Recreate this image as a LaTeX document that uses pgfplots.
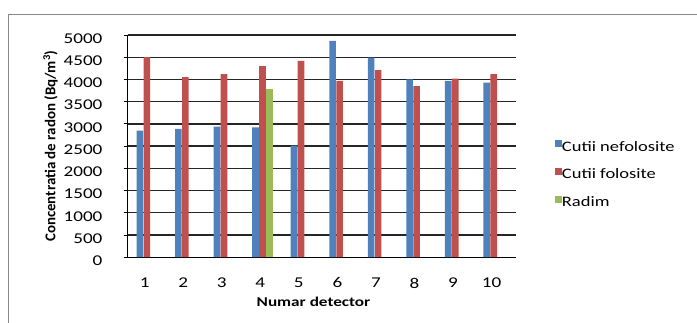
\documentclass[border=0pt]{standalone}
\usepackage{pgfplots}
\pgfplotsset{compat=1.18}
\usepackage{fontspec}
\setmainfont{Carlito}[FakeStretch=1.28]
\newfontfamily\titlefont{Carlito}

\definecolor{framegray}{HTML}{898989}
\definecolor{barblue}{HTML}{4F81BD}
\definecolor{barred}{HTML}{C0504D}
\definecolor{bargreen}{HTML}{9BBB59}

\pgfplotsset{
  colbar/.style 2 args={
    ybar, bar width=6.6bp, bar shift=#2, draw=none, fill=#1,
    legend image code/.code={\fill[#1] (0bp,0.5bp) rectangle (7bp,7.5bp);}
  }
}

\begin{document}
\begin{tikzpicture}
\useasboundingbox (0bp,0bp) rectangle (697bp,323bp);
% outer chart frame
\draw[framegray, line width=1bp] (8.5bp,0bp) -- (8.5bp,308.5bp) -- (697bp,308.5bp);
\begin{axis}[
  at={(127.6bp,65.8bp)}, anchor=south west, scale only axis,
  width=388.5bp, height=222.2bp,
  xmin=0.5, xmax=10.58, ymin=0, ymax=5000,
  xtick={1,...,10}, ytick={0,500,...,5000},
  axis x line*=bottom, axis y line*=left,
  axis line style={-, black, line width=1.2bp},
  ymajorgrids, grid style={black!85, line width=1.3bp},
  xtick style={draw=none},
  ytick style={black, line width=0.9bp},
  tick align=outside, major tick length=4bp,
  /pgf/number format/assume math mode=true,
  /pgf/number format/1000 sep={},
  xticklabel style={font=\fontsize{15}{15}\selectfont, anchor=center,
    yshift=-21.8bp, xshift=-2.2bp},
  yticklabel style={font=\fontsize{15}{15}\selectfont, anchor=east,
    inner sep=0pt, xshift=-21bp, yshift=-3.5bp},
  xlabel={Numar detector},
  xlabel style={at={(axis description cs:0.4785,-0.1994)}, anchor=center,
    font=\bfseries\fontsize{13.5}{13.5}\selectfont},
  ylabel={Concentratia de radon (Bq/m\textsuperscript{3})},
  ylabel style={at={(axis description cs:-0.1985,0.5)}, anchor=center,
    font=\titlefont\bfseries\fontsize{15}{15}\selectfont},
  legend cell align=left,
  legend style={at={(axis description cs:1.1,0.5266)}, anchor=north west,
    draw=none, fill=none, inner sep=0pt, outer sep=0pt, row sep=13.7bp,
    font=\fontsize{14.5}{14.5}\selectfont,
    nodes={inner sep=0pt, text height=10bp, text depth=3bp},
    /tikz/every even column/.append style={column sep=8bp}},
]
\addplot[colbar={barblue}{-7bp}] coordinates {
  (1,2850) (2,2890) (3,2940) (4,2920) (5,2510)
  (6,4870) (7,4490) (8,4000) (9,3970) (10,3930)};
\addlegendentry{Cutii nefolosite}
\addplot[colbar={barred}{0bp}] coordinates {
  (1,4500) (2,4050) (3,4120) (4,4300) (5,4420)
  (6,3970) (7,4210) (8,3850) (9,4020) (10,4120)};
\addlegendentry{Cutii folosite}
\addplot[colbar={bargreen}{7.2bp}] coordinates {(4,3790)};
\addlegendentry{Radim}
\end{axis}
\end{tikzpicture}
\end{document}
